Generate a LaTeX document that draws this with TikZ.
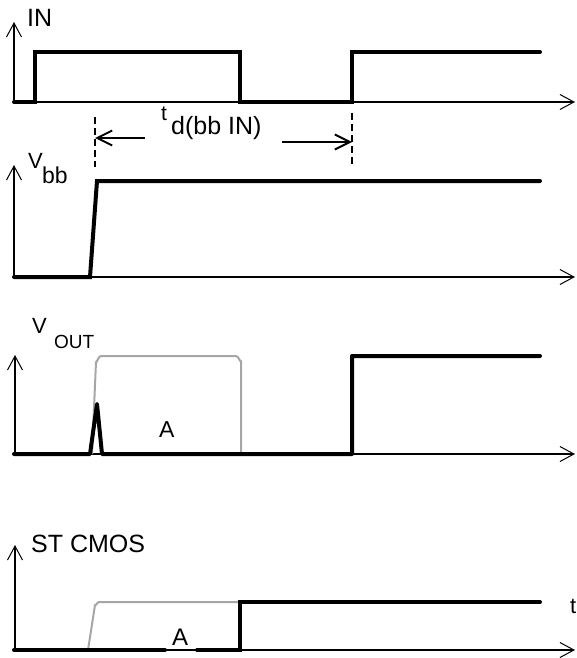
\documentclass[tikz,border=0pt]{standalone}
\usepackage{fontspec}
\setmainfont{Liberation Sans}
\usetikzlibrary{arrows.meta}
\begin{document}
\begin{tikzpicture}[x=1pt,y=-1pt,
  axis/.style={line width=1.1pt, -{Straight Barb[length=14pt,width=15pt,line width=1pt]}},
  sig/.style={line width=4pt, line cap=round, line join=miter},
  ghost/.style={line width=2pt, black!35, line join=round},
  dimarrow/.style={line width=2.2pt, -{Straight Barb[length=15pt,width=15pt,line width=2pt]}},
  guide/.style={line width=2.5pt, dash pattern=on 7pt off 4pt},
  lbl/.style={inner sep=0pt, anchor=base west},
  fbig/.style={font=\fontsize{25}{28}\selectfont},
  fmid/.style={font=\fontsize{22}{26}\selectfont},
  fsmall/.style={font=\fontsize{19}{22}\selectfont}]
\useasboundingbox (0,0) rectangle (576,658);

% ---------- panel 1: IN ----------
\draw[axis] (14,102) -- (14,22);
\draw[axis] (14,102) -- (575,102);
\draw[sig] (14,102) -- (35,102) -- (35,52) -- (240,52) -- (240,102) -- (352,102) -- (352,52) -- (540,52);
\node[lbl,fbig] (in) at (27,26.7) {IN};

% ---------- delay dimension ----------
\coordinate (g1top) at (95,117);
\coordinate (g1bot) at (95,167);
\coordinate (g2top) at (352,113);
\coordinate (g2bot) at (352,167);
\draw[guide] (g1top) -- (g1bot);
\draw[guide] (g2top) -- (g2bot);
\coordinate (la) at (145,138);
\coordinate (lb) at (95,138);
\coordinate (ra) at (282,142);
\coordinate (rb) at (352,142);
\draw[dimarrow] (la) -- (lb);
\draw[dimarrow] (ra) -- (rb);
\node[lbl,font=\fontsize{21}{24}\selectfont] (t) at (161,121) {t};
\node[lbl,fbig] (tsub) at (171,135) {d(bb IN)};

% ---------- panel 2: Vbb ----------
\draw[axis] (14,277) -- (14,165);
\draw[axis] (14,277) -- (575,277);
\draw[sig] (14,277) -- (90,277) -- (97,181) -- (540,181);
\node[lbl,fmid] (vbb) at (28,168) {V};
\node[lbl,font=\fontsize{23}{26}\selectfont] (bb) at (42,183) {bb};

% ---------- panel 3: VOUT ----------
\draw[axis] (15,454) -- (15,355);
\draw[axis] (15,454) -- (575,454);
\draw[ghost] (92,454) -- (96,362) to[out=-85,in=180] (101,356) -- (236,356) to[out=0,in=-95] (241,361) -- (241,454);
\draw[sig, line join=round] (14,454) -- (90,454) -- (97,404) -- (102,454) -- (352,454) -- (352,356) -- (540,356);
\node[lbl,fmid] (vout) at (32,333) {V};
\node[lbl,fsmall] (out) at (54,348) {OUT};
\node[lbl,font=\fontsize{23}{26}\selectfont] (a1) at (159,437) {A};

% ---------- panel 4: ST CMOS ----------
\draw[axis] (15,650) -- (15,545);
\draw[axis] (15,650) -- (575,650);
\draw[ghost] (88,650) -- (95,605) to[out=-80,in=180] (99,602) -- (240,602);
\draw[sig] (14,650) -- (165,650);
\draw[sig] (197,650) -- (240,650) -- (240,602) -- (540,602);
\node[lbl,fbig] (st) at (31,552) {ST CMOS};
\node[lbl,font=\fontsize{24}{27}\selectfont] (a2) at (172,645) {A};
\node[lbl,fmid] (tr) at (570,613) {t};
\end{tikzpicture}
\end{document}
